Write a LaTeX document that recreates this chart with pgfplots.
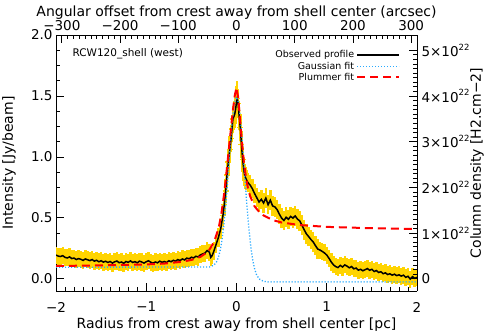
\documentclass[border=0pt]{standalone}
\usepackage{fontspec}
\setmainfont{DejaVu Sans}
\usepackage{pgfplots}
\usepackage{pgfplotstable}
\pgfplotsset{compat=1.18}

\definecolor{idlyellow}{RGB}{255,212,0}
\definecolor{idlblue}{RGB}{40,170,255}
\definecolor{idlred}{RGB}{255,0,0}

\newcommand{\ee}[1]{#1×10\raisebox{0.85ex}{\fontsize{8.5bp}{9bp}\selectfont 22}}

% observed radial profile (pc, Jy/beam, error)
\pgfplotstableread{
x y e
-2.000 0.195 0.07
-1.975 0.186 0.07
-1.950 0.183 0.07
-1.925 0.190 0.07
-1.900 0.176 0.07
-1.875 0.171 0.07
-1.850 0.180 0.07
-1.825 0.166 0.07
-1.800 0.170 0.07
-1.775 0.158 0.07
-1.750 0.166 0.07
-1.725 0.160 0.07
-1.700 0.151 0.07
-1.675 0.163 0.07
-1.650 0.156 0.07
-1.625 0.149 0.07
-1.600 0.158 0.07
-1.575 0.145 0.07
-1.550 0.152 0.07
-1.525 0.140 0.07
-1.500 0.148 0.07
-1.475 0.137 0.07
-1.450 0.144 0.07
-1.425 0.134 0.07
-1.400 0.142 0.07
-1.375 0.129 0.07
-1.350 0.140 0.07
-1.325 0.146 0.07
-1.300 0.132 0.07
-1.275 0.138 0.07
-1.250 0.127 0.07
-1.225 0.142 0.07
-1.200 0.135 0.07
-1.175 0.147 0.07
-1.150 0.134 0.07
-1.125 0.141 0.07
-1.100 0.131 0.07
-1.075 0.145 0.07
-1.050 0.138 0.07
-1.025 0.129 0.07
-1.000 0.140 0.07
-0.975 0.148 0.07
-0.950 0.136 0.07
-0.925 0.128 0.07
-0.900 0.138 0.07
-0.875 0.131 0.07
-0.850 0.145 0.07
-0.825 0.135 0.07
-0.800 0.142 0.07
-0.775 0.133 0.07
-0.750 0.148 0.07
-0.725 0.140 0.07
-0.700 0.152 0.07
-0.675 0.144 0.07
-0.650 0.158 0.07
-0.625 0.150 0.07
-0.600 0.163 0.07
-0.575 0.155 0.07
-0.550 0.170 0.07
-0.525 0.164 0.07
-0.500 0.177 0.07
-0.475 0.171 0.07
-0.450 0.185 0.07
-0.425 0.179 0.07
-0.400 0.196 0.07
-0.375 0.204 0.07
-0.350 0.211 0.07
-0.325 0.232 0.07
-0.300 0.218 0.07
-0.285 0.176 0.07
-0.270 0.190 0.07
-0.250 0.228 0.07
-0.225 0.285 0.07
-0.200 0.340 0.08
-0.175 0.410 0.08
-0.150 0.520 0.09
-0.135 0.610 0.09
-0.120 0.720 0.10
-0.105 0.850 0.10
-0.090 0.960 0.10
-0.075 1.060 0.11
-0.060 1.150 0.11
-0.050 1.230 0.11
-0.040 1.310 0.11
-0.030 1.330 0.11
-0.020 1.350 0.11
-0.010 1.390 0.12
0.000 1.450 0.13
0.008 1.480 0.14
0.018 1.440 0.12
0.030 1.330 0.11
0.042 1.240 0.11
0.055 1.100 0.11
0.068 0.980 0.10
0.080 0.900 0.10
0.090 0.850 0.09
0.100 0.830 0.09
0.112 0.810 0.08
0.125 0.790 0.08
0.150 0.770 0.08
0.175 0.740 0.08
0.200 0.700 0.08
0.225 0.665 0.08
0.250 0.630 0.08
0.275 0.652 0.08
0.300 0.622 0.08
0.325 0.662 0.08
0.350 0.608 0.08
0.375 0.645 0.08
0.400 0.598 0.08
0.425 0.590 0.08
0.450 0.568 0.08
0.475 0.530 0.08
0.500 0.498 0.08
0.525 0.478 0.08
0.550 0.505 0.08
0.575 0.488 0.08
0.600 0.512 0.08
0.625 0.498 0.08
0.650 0.516 0.08
0.675 0.490 0.08
0.700 0.476 0.08
0.725 0.440 0.08
0.750 0.402 0.08
0.775 0.368 0.08
0.800 0.346 0.08
0.825 0.322 0.08
0.850 0.302 0.08
0.875 0.272 0.08
0.900 0.244 0.08
0.925 0.236 0.07
0.950 0.225 0.07
0.975 0.212 0.07
1.000 0.195 0.07
1.025 0.168 0.07
1.050 0.138 0.07
1.075 0.114 0.07
1.100 0.100 0.07
1.125 0.092 0.07
1.150 0.110 0.07
1.175 0.097 0.07
1.200 0.114 0.07
1.225 0.104 0.07
1.250 0.090 0.07
1.275 0.101 0.07
1.300 0.082 0.07
1.325 0.088 0.07
1.350 0.071 0.07
1.375 0.078 0.07
1.400 0.066 0.07
1.425 0.075 0.07
1.450 0.084 0.07
1.475 0.070 0.07
1.500 0.078 0.07
1.525 0.060 0.07
1.550 0.068 0.07
1.575 0.052 0.07
1.600 0.058 0.07
1.625 0.042 0.07
1.650 0.049 0.07
1.675 0.035 0.07
1.700 0.041 0.07
1.725 0.030 0.07
1.750 0.038 0.07
1.775 0.026 0.07
1.800 0.033 0.07
1.825 0.022 0.07
1.850 0.030 0.07
1.875 0.012 0.07
1.900 0.021 0.07
1.925 -0.002 0.07
1.950 0.018 0.07
1.975 0.004 0.07
2.000 0.012 0.07
}\obs

% gaussian fit (each side fitted separately)
\pgfplotstableread{
x y
-2.000 0.095
-0.300 0.097
-0.250 0.112
-0.220 0.140
-0.200 0.177
-0.180 0.235
-0.160 0.322
-0.140 0.443
-0.120 0.598
-0.100 0.782
-0.080 0.981
-0.060 1.176
-0.040 1.341
-0.020 1.451
0.000 1.490
0.020 1.451
0.040 1.339
0.060 1.169
0.080 0.967
0.100 0.758
0.120 0.560
0.140 0.390
0.160 0.254
0.180 0.153
0.200 0.083
0.220 0.037
0.250 -0.001
0.300 -0.021
0.350 -0.025
2.000 -0.025
}\gauss

% plummer fit
\pgfplotstableread{
x y
-2.000 0.105
-1.500 0.110
-1.000 0.118
-0.800 0.125
-0.600 0.140
-0.500 0.155
-0.400 0.180
-0.350 0.205
-0.300 0.240
-0.250 0.300
-0.200 0.410
-0.170 0.520
-0.140 0.680
-0.120 0.810
-0.100 0.950
-0.080 1.100
-0.060 1.240
-0.040 1.380
-0.020 1.500
0.000 1.570
0.020 1.480
0.040 1.300
0.060 1.120
0.080 0.970
0.100 0.860
0.120 0.770
0.150 0.680
0.200 0.595
0.250 0.550
0.300 0.520
0.400 0.482
0.500 0.462
0.700 0.441
1.000 0.426
1.500 0.415
2.000 0.408
}\plum

\begin{document}
\begin{tikzpicture}
\pgfplotsset{
  idl/.style={
    width=361bp, height=256bp, scale only axis,
    tick align=inside,
    major tick length=8bp, minor tick length=4bp,
    axis line style={line width=0.9bp},
    every tick/.style={black, line width=0.8bp},
    tick label style={font=\fontsize{13.5bp}{15bp}\selectfont},
    label style={font=\fontsize{14bp}{16bp}\selectfont},
  },
}
\begin{axis}[idl, name=main,
  axis x line*=bottom, axis y line*=left,
  xmin=-2, xmax=2, ymin=-0.1, ymax=2.0,
  clip marker paths=true,
  xtick={-2,-1,0,1,2}, xticklabels={−2,−1,0,1,2}, minor x tick num=9,
  ytick={0,0.5,1,1.5,2}, yticklabels={0.0,0.5,1.0,1.5,2.0}, minor y tick num=3,
  xticklabel style={anchor=center, yshift=-16bp},
  xlabel={Radius from crest away from shell center [pc]},
  xlabel style={at={(axis description cs:0.5,0)}, anchor=center, yshift=-34bp},
  ylabel={Intensity [Jy/beam]},
  ylabel style={at={(axis description cs:-0.13,0.5)}, anchor=center},
  legend plot pos=right, legend cell align=right,
  legend image code/.code={\draw[#1] (0bp,0bp) -- (42bp,0bp);},
  legend style={draw=none, fill=none, font=\fontsize{9.5bp}{11bp}\selectfont,
    at={(rel axis cs:0.962,0.955)}, anchor=north east, row sep=-1.5bp},
]
\addplot[forget plot, color=idlyellow, line width=3bp, mark=+, mark size=3bp,
  mark options={line width=1.5bp},
  error bars/.cd, y dir=both, y explicit, error mark=none,
  error bar style={line width=2.5bp, idlyellow}]
  table[x=x, y=y, y error=e] {\obs};
\addplot[black, line width=1.5bp] table[x=x, y=y] {\obs};
\addplot[idlblue, line width=1.3bp, dash pattern=on 1.2bp off 1.8bp] table {\gauss};
\addplot[idlred, line width=2bp, dash pattern=on 8bp off 5bp] table {\plum};
\legend{Observed profile, Gaussian fit, Plummer fit}
\node[anchor=west, font=\fontsize{10.5bp}{12bp}\selectfont]
  at (rel axis cs:0.036,0.926) {RCW120\_shell (west)};
\end{axis}
\begin{axis}[idl, at={(main.south west)}, anchor=south west,
  axis x line*=top, axis y line*=right,
  xmin=-310, xmax=310, ymin=-0.266667, ymax=5.333333,
  xtick={-300,-200,-100,0,100,200,300},
  xticklabels={−300,−200,−100,0,100,200,300}, minor x tick num=9,
  xticklabel style={anchor=center, yshift=9bp},
  ytick={0,1,2,3,4,5},
  yticklabels={0,{\ee{1}},{\ee{2}},{\ee{3}},{\ee{4}},{\ee{5}}},
  minor y tick num=9,
  yticklabel style={xshift=1bp},
  xlabel={Angular offset from crest away from shell center (arcsec)},
  xlabel style={at={(axis description cs:0.5,1)}, anchor=center, yshift=22.5bp},
  ylabel={Column density [H2.cm−2]},
  ylabel style={at={(axis description cs:1.166,0.5)}, anchor=center},
]
\end{axis}
\pgfresetboundingbox
\path[use as bounding box] ([xshift=-56bp,yshift=-45bp]main.south west)
  rectangle ([xshift=74bp,yshift=35bp]main.north east);
\end{tikzpicture}
\end{document}
